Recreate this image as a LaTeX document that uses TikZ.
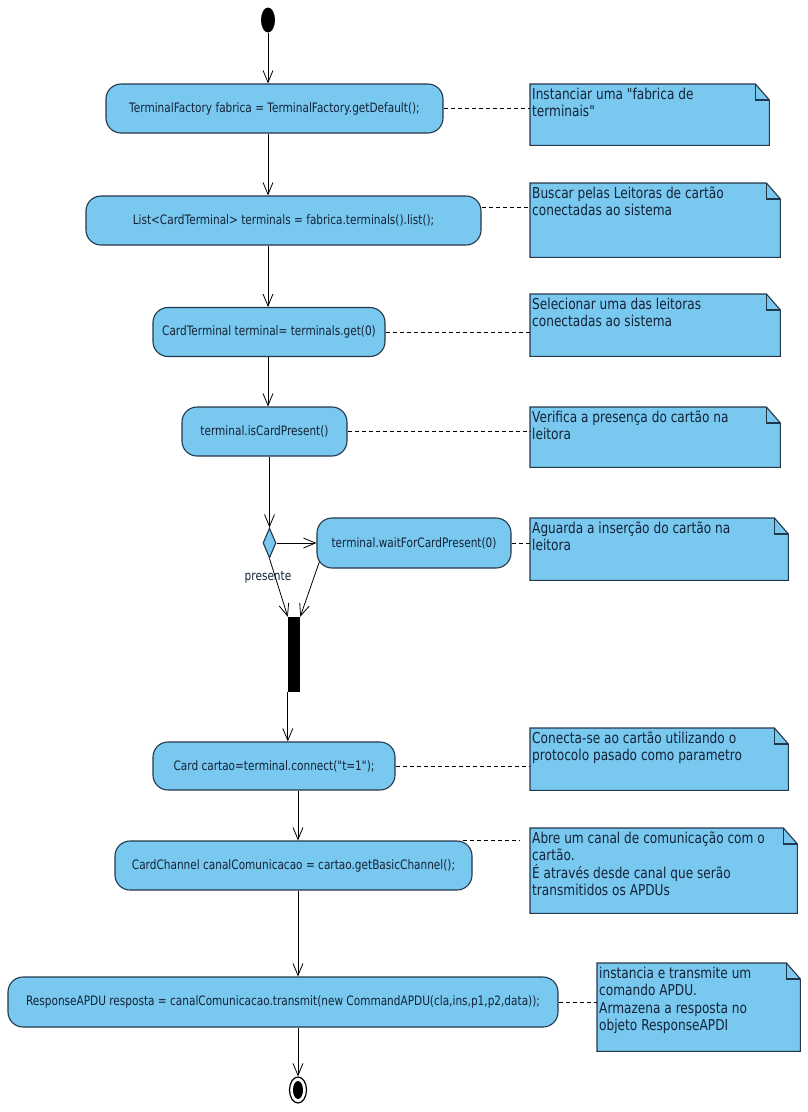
\documentclass[tikz,border=0pt]{standalone}
\usepackage{fontspec}
\setmainfont{DejaVu Sans}[FakeStretch=0.81, Ligatures=TeXOff]
\usepackage{xcolor}
\usepackage{tikz}
\usetikzlibrary{arrows.meta, calc, backgrounds, shapes.geometric}

\definecolor{actfill}{RGB}{121,200,239}
\definecolor{actline}{RGB}{35,55,75}
\definecolor{acttext}{RGB}{20,35,55}

% note body: width, height, text (top left aligned)
\newcommand{\notebody}[3]{\parbox[c][#2][t]{#1}{\raggedright\strut #3}}

\tikzset{
  action/.style={draw=actline, fill=actfill, line width=1.1pt, rounded corners=15pt,
    text=acttext, font=\fontsize{13}{15}\selectfont, inner sep=0pt},
  flow/.style={-{Straight Barb[length=12pt,width=10pt]}, line width=0.8pt},
  notelink/.style={dash pattern=on 4pt off 3pt, line width=0.8pt},
  notebox/.style={anchor=north west, inner xsep=2pt, inner ysep=3pt, text=acttext,
    font=\fontsize{15}{17.5}\selectfont},
  notepaper/.style={draw=actline, fill=actfill, line width=1.1pt},
}

\begin{document}
\begin{tikzpicture}[x=1pt, y=-1pt]
    \useasboundingbox (0,0) rectangle (807,1112);

    % Start and end
    \node[ellipse, fill=black, minimum width=14pt, minimum height=25pt, inner sep=0pt] (start) at (268,20) {};
    \node[ellipse, draw=black, line width=1.2pt, fill=white, minimum width=17pt, minimum height=26pt, inner sep=0pt] (fin) at (298,1090) {};
    \fill (fin.center) ellipse [x radius=5pt, y radius=9pt];

    % Actions
    \node[action, minimum width=337pt, minimum height=49pt] (a1) at (274.5,108.5) {TerminalFactory fabrica = TerminalFactory.getDefault();};
    \node[action, minimum width=395pt, minimum height=49pt] (a2) at (283.5,220.5) {List<CardTerminal> terminals = fabrica.terminals().list();};
    \node[action, minimum width=232pt, minimum height=49pt] (a3) at (269,332) {CardTerminal terminal= terminals.get(0)};
    \node[action, minimum width=165pt, minimum height=49pt] (a4) at (264.5,431.5) {terminal.isCardPresent()};
    \node[action, minimum width=194pt, minimum height=50pt] (a5) at (414,543) {terminal.waitForCardPresent(0)};
    \node[action, minimum width=242pt, minimum height=48pt] (a6) at (274,766) {Card cartao=terminal.connect("t=1");};
    \node[action, minimum width=357pt, minimum height=49pt] (a7) at (293.5,865.5) {CardChannel canalComunicacao = cartao.getBasicChannel();};
    \node[action, minimum width=550pt, minimum height=50pt] (a8) at (283,1002) {ResponseAPDU resposta = canalComunicacao.transmit(new CommandAPDU(cla,ins,p1,p2,data));};

    % Decision and join bar
    \node[diamond, draw=actline, fill=actfill, line width=1.1pt, aspect=0.43, minimum width=13pt, minimum height=30pt, inner sep=0pt] (dec) at (269.5,543) {};
    \node[fill=black, minimum width=12pt, minimum height=75pt, inner sep=0pt] (bar) at (294,654.5) {};
    \node[text=acttext, font=\fontsize{13}{15}\selectfont] (lp) at (268,577) {presente};

    % Notes
    \node[notebox] (n1) at (530,84) {\notebody{235pt}{55pt}{Instanciar uma "fabrica de\\terminais"}};
    \node[notebox] (n2) at (530,183) {\notebody{246pt}{68pt}{Buscar pelas Leitoras de cartão\\conectadas ao sistema}};
    \node[notebox] (n3) at (530,294) {\notebody{246pt}{56pt}{Selecionar uma das leitoras\\conectadas ao sistema}};
    \node[notebox] (n4) at (530,407) {\notebody{246pt}{54pt}{Verifica a presença do cartão na\\leitora}};
    \node[notebox] (n5) at (530,518) {\notebody{254pt}{56pt}{Aguarda a inserção do cartão na\\leitora}};
    \node[notebox] (n6) at (530,728) {\notebody{254pt}{56pt}{Conecta-se ao cartão utilizando o\\protocolo pasado como parametro}};
    \node[notebox] (n7) at (530,828) {\notebody{263pt}{79pt}{Abre um canal de comunicação com o\\cartão.\\É através desde canal que serão\\transmitidos os APDUs}};
    \node[notebox] (n8) at (597,963) {\notebody{199pt}{82pt}{instancia e transmite um\\comando APDU.\\Armazena a resposta no\\objeto ResponseAPDI}};

    % Note paper with folded corner
    \begin{scope}[on background layer]
    \foreach \n in {n1,n2,n3,n4,n5,n6,n7,n8} {
        \draw[notepaper] (\n.north west) -- ([xshift=-14pt]\n.north east) -- ([yshift=-16pt]\n.north east)
            -- (\n.south east) -- (\n.south west) -- cycle;
        \draw[actline, line width=1.1pt] ([xshift=-14pt]\n.north east) |- ([yshift=-16pt]\n.north east);
    }
    \end{scope}

    % Control flow
    \draw[flow] (start) -- (start |- a1.north);
    \draw[flow] (a1.south -| start) -- (a2.north -| start);
    \draw[flow] (a2.south -| start) -- (a3.north -| start);
    \draw[flow] (a3.south -| start) -- (a4.north -| start);
    \draw[flow] (a4.south -| dec) -- (dec.north);
    \draw[flow] (dec.east) -- (a5.west);
    \draw[flow] (dec.south) -- (bar.north west);
    \draw[flow] ([shift={(3pt,7pt)}]a5.south west) -- (bar.north east);
    \draw[flow] (bar.south west) -- (bar.south west |- a6.north);
    \draw[flow] (a6.south -| fin) -- (a7.north -| fin);
    \draw[flow] (a7.south -| fin) -- (a8.north -| fin);
    \draw[flow] (a8.south -| fin) -- (fin.north);

    % Note links
    \draw[notelink] (a1.east) -- (a1.east -| n1.west);
    \draw[notelink] ([yshift=13pt]a2.east) -- ([yshift=13pt]a2.east -| n2.west);
    \draw[notelink] (a3.east) -- (a3.east -| n3.west);
    \draw[notelink] (a4.east) -- (a4.east -| n4.west);
    \draw[notelink] (a5.east) -- (a5.east -| n5.west);
    \draw[notelink] (a6.east) -- (a6.east -| n6.west);
    \draw[notelink] ([xshift=-10pt]a7.north east) -- ([xshift=-10pt]a7.north east -| n7.west);
    \draw[notelink] (a8.east) -- (a8.east -| n8.west);
\end{tikzpicture}
\end{document}
